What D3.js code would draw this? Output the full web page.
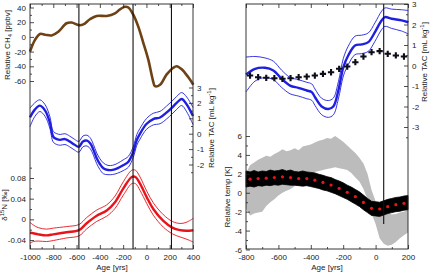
<!DOCTYPE html>
<meta charset="utf-8">
<style>
    body { margin: 0; background: #fff; }
    svg text { font-family: "Liberation Sans", Arial, sans-serif; fill: #222; }
    .axis path { display: none; }
    .axis line { stroke: #222; stroke-width: 0.8px; }
    .axis text { font-size: 8px; }
    .ttl { font-size: 8px; }
    .frame { fill: none; stroke: #222; stroke-width: 0.9px; }
</style>
<svg width="431" height="272"></svg>
<script src="https://cdn.jsdelivr.net/npm/d3@7"></script>
<script>
// ---- left panel data ----
var ch4Years = [-1000,-957,-914,-871,-814,-757,-686,-643,-580,-542,-485,-427,-341,-270,-227,-184,-155,-112,-70,-27,16,54,73,117,174,231,260,303,360,403];
var ch4Values = [-20,-4,4,3,2,7,18.6,19.6,16,17,24,28.5,28.5,32,37.5,41,40,30,14,-8,-31,-58,-67,-65,-51,-42,-40,-44,-55,-65];

var tacLYears = [-1000,-960,-915,-870,-830,-800,-770,-740,-700,-660,-620,-580,-545,-510,-480,-455,-427,-400,-370,-330,-290,-250,-200,-155,-112,-83,-55,0,59,117,174,220,260,303,346,400];
var tacLMid = [1.06,1.55,1.82,1.5,0.75,-0.2,-0.35,-0.4,-0.35,-0.5,-0.7,-0.85,-0.5,-0.45,-0.65,-1.05,-1.6,-1.97,-2.25,-2.36,-2.35,-2.25,-2.05,-1.82,-1.17,-0.41,0.0,0.63,0.95,1.05,1.38,1.7,2.0,2.25,1.9,1.15];
var tacLErr = [0.6,0.45,0.38,0.38,0.38,0.35,0.35,0.35,0.35,0.35,0.35,0.35,0.35,0.35,0.35,0.35,0.35,0.35,0.35,0.3,0.3,0.32,0.35,0.35,0.35,0.35,0.35,0.35,0.38,0.4,0.42,0.42,0.42,0.42,0.48,0.55];

var d15nYears = [-1000,-971,-930,-857,-800,-685,-579,-513,-427,-341,-270,-198,-126,-94,-55,2,59,145,222,288,340,403];
var d15nMid = [-0.026,-0.027,-0.029,-0.031,-0.029,-0.025,-0.021,-0.0075,0.007,0.017,0.033,0.06,0.082,0.082,0.069,0.043,0.020,-0.003,-0.016,-0.021,-0.022,-0.021];
var d15nErr = [0.02,0.016,0.013,0.012,0.012,0.011,0.011,0.011,0.011,0.011,0.012,0.013,0.013,0.013,0.013,0.012,0.012,0.012,0.012,0.013,0.016,0.023];

var leftMarkYears = [-580, -115, 215];

// ---- right panel data ----
var tacRYears = [-800,-744,-683,-631,-580,-528,-477,-425,-394,-374,-333,-292,-261,-230,-199,-169,-127,-86,-45,-4,37,58,99,161,202];
var tacRMid = [-0.44,-0.16,-0.11,-0.24,-0.65,-0.98,-1.09,-1.22,-1.3,-1.55,-2.0,-2.12,-2.0,-1.22,-0.08,0.49,0.98,1.03,1.14,1.63,2.2,2.36,2.28,2.2,2.11];
var tacRErr = [0.85,0.6,0.48,0.45,0.42,0.4,0.4,0.4,0.4,0.4,0.4,0.41,0.41,0.42,0.43,0.45,0.45,0.45,0.45,0.45,0.45,0.45,0.47,0.52,0.57];

var dotYears = [-775,-725,-675,-625,-575,-525,-475,-425,-375,-325,-275,-225,-175,-125,-75,-25,25,75,125,175];
var crossValues = [-0.49,-0.57,-0.6,-0.62,-0.65,-0.62,-0.57,-0.54,-0.49,-0.41,-0.33,-0.16,-0.05,0.16,0.44,0.65,0.7,0.57,0.49,0.44];
var tempDotValues = [1.44,1.5,1.54,1.61,1.68,1.61,1.5,1.5,1.33,1.09,0.81,0.46,0.04,-0.42,-1.02,-1.65,-1.72,-1.47,-1.26,-1.12];

var bandYears = d3.range(-800, 201, 25);
var blackUpper = [2.3,2.2,2.35,2.2,2.3,2.25,2.4,2.3,2.35,2.45,2.3,2.4,2.25,2.2,2.3,2.2,2.15,2.1,1.95,1.85,1.7,1.6,1.4,1.25,1.05,0.8,0.6,0.35,0.1,-0.25,-0.6,-0.9,-0.95,-1.0,-0.85,-0.7,-0.6,-0.5,-0.45,-0.35,-0.3];
var blackLower = [0.6,0.7,0.6,0.75,0.7,0.8,0.75,0.85,0.8,0.9,0.85,0.8,0.8,0.75,0.7,0.75,0.65,0.55,0.45,0.3,0.2,0.05,-0.1,-0.3,-0.5,-0.7,-0.95,-1.2,-1.45,-1.8,-2.1,-2.4,-2.45,-2.5,-2.35,-2.2,-2.1,-2.0,-1.95,-1.85,-1.8];
var greyUpper = [2.1,2.9,3.2,3.5,3.7,3.9,3.8,4.1,4.3,4.6,4.4,4.5,4.7,4.5,4.9,5.0,5.1,5.3,5.5,5.6,5.8,5.7,6.0,5.7,5.4,5.0,4.6,4.2,3.7,3.1,2.0,0.3,-0.9,-1.8,-2.1,-2.1,-2.3,-2.25,-2.1,-2.0,-1.8];
var greyLower = [-1.7,-2.4,-2.2,-2.1,-2.0,-1.4,-1.0,-0.7,-0.3,0.0,0.2,0.4,0.7,1.0,1.3,1.6,1.9,2.2,2.3,2.4,2.5,2.6,2.7,2.6,2.5,2.4,2.1,1.6,1.2,0.4,-0.7,-2.2,-3.3,-4.8,-5.4,-5.6,-5.5,-5.2,-4.8,-4.5,-4.2];

var rightMarkYear = 50;

// ---- tick labels ----
var xTicksLeft = [-1000,-800,-600,-400,-200,0,200,400];
var xTicksRight = [-800,-600,-400,-200,0,200];
var ch4Ticks = [-60,-40,-20,0,20,40];
var tacTicksLeft = [-2,-1,0,1,2,3];
var d15nTicks = [-0.04,0,0.04,0.08];
var tacTicksRight = [-3,-2,-1,0,1,2,3];
var tempTicks = [-6,-4,-2,0,2,4,6];

var svg = d3.select("svg");

var xL = d3.scaleLinear().domain([-1000, 400]).range([30, 193]);
var yCH4 = d3.scaleLinear().domain([-60, 40]).range([81, 7.5]);
var yTacL = d3.scaleLinear().domain([-2, 3]).range([164.5, 87.5]);
var yN = d3.scaleLinear().domain([-0.04, 0.08]).range([240, 178]);

var xR = d3.scaleLinear().domain([-800, 200]).range([246, 408]);
var yTacR = d3.scaleLinear().domain([-3, 3]).range([127, 4]);
var yT = d3.scaleLinear().domain([-6, 6]).range([249.5, 136]);

var fmt = function(d) { return String(d); };

function axis(gen, scale, pos, major, minor, labels, pad) {
    var g = svg.append("g").attr("class", "axis").attr("transform", pos);
    g.call(gen(scale).tickValues(major).tickSize(-4).tickPadding(labels ? (pad || 4) : 0)
        .tickFormat(labels ? fmt : ""));
    svg.append("g").attr("class", "axis").attr("transform", pos)
        .call(gen(scale).tickValues(minor).tickSize(-2).tickFormat(""));
    return g;
}

function rowsOf(years, mid, err) {
    return years.map(function(y, i) { return {x: y, m: mid[i], e: err ? err[i] : 0}; });
}

// ---- left panel ----
var ch4 = rowsOf(ch4Years, ch4Values);
var tacL = rowsOf(tacLYears, tacLMid, tacLErr);
var d15n = rowsOf(d15nYears, d15nMid, d15nErr);

function band(g, data, x, y, col, w) {
    var curve = d3.curveCatmullRom;
    [-1, 1].forEach(function(s) {
        g.append("path").datum(data)
            .attr("fill", "none").attr("stroke", col).attr("stroke-width", 0.9)
            .attr("d", d3.line().curve(curve).x(function(d) { return x(d.x); })
                .y(function(d) { return y(d.m + s * d.e); }));
    });
    g.append("path").datum(data)
        .attr("fill", "none").attr("stroke", col).attr("stroke-width", w)
        .attr("d", d3.line().curve(curve).x(function(d) { return x(d.x); })
            .y(function(d) { return y(d.m); }));
}

var gl = svg.append("g");
gl.append("path").datum(ch4)
    .attr("fill", "none").attr("stroke", "#6e4214").attr("stroke-width", 2.6)
    .attr("d", d3.line().curve(d3.curveCatmullRom).x(function(d) { return xL(d.x); })
        .y(function(d) { return yCH4(d.m); }));
band(gl, tacL, xL, yTacL, "#1f1fe0", 2.4);
band(gl, d15n, xL, yN, "#e8141c", 2.4);

gl.selectAll(".mark").data(leftMarkYears).enter().append("line")
    .attr("x1", function(d) { return xL(d); }).attr("x2", function(d) { return xL(d); })
    .attr("y1", 4).attr("y2", 249).attr("stroke", "#111").attr("stroke-width", 1.1);

svg.append("rect").attr("class", "frame").attr("x", 30).attr("y", 4).attr("width", 163).attr("height", 245);

axis(d3.axisBottom, xL, "translate(0,249)", xTicksLeft, d3.range(-900, 400, 200), true, 5.5);
axis(d3.axisTop, xL, "translate(0,4)", xTicksLeft, d3.range(-900, 400, 200), false);
axis(d3.axisLeft, yCH4, "translate(30,0)", ch4Ticks, d3.range(-50, 40, 20), true);
axis(d3.axisLeft, yN, "translate(30,0)", d15nTicks, [-0.02, 0.02, 0.06, 0.1], true);
axis(d3.axisRight, yTacL, "translate(193,0)", tacTicksLeft, [-2.5, -1.5, -0.5, 0.5, 1.5, 2.5], true);

// ---- right panel ----
var tacR = rowsOf(tacRYears, tacRMid, tacRErr);
var gr = svg.append("g");

gr.append("path").datum(bandYears)
    .attr("fill", "#bcbcbc")
    .attr("d", d3.area().x(function(d) { return xR(d); })
        .y0(function(d, i) { return yT(greyLower[i]); })
        .y1(function(d, i) { return yT(greyUpper[i]); }));
gr.append("path").datum(bandYears)
    .attr("fill", "#000").attr("stroke", "#000").attr("stroke-width", 0.8)
    .attr("d", d3.area().x(function(d) { return xR(d); })
        .y0(function(d, i) { return yT(blackLower[i]); })
        .y1(function(d, i) { return yT(blackUpper[i]); }));
gr.selectAll(".dot").data(dotYears).enter().append("circle")
    .attr("cx", function(d) { return xR(d); })
    .attr("cy", function(d, i) { return yT(tempDotValues[i]); })
    .attr("r", 1.6).attr("fill", "#e8141c");

band(gr, tacR, xR, yTacR, "#1f1fe0", 2.4);
gr.selectAll(".cross").data(dotYears).enter().append("path")
    .attr("transform", function(d, i) { return "translate(" + xR(d) + "," + yTacR(crossValues[i]) + ")"; })
    .attr("d", d3.symbol().type(d3.symbolCross).size(22))
    .attr("fill", "#0d0d1a");

gr.append("line").attr("x1", xR(rightMarkYear)).attr("x2", xR(rightMarkYear))
    .attr("y1", 4).attr("y2", 224).attr("stroke", "#111").attr("stroke-width", 1.1);

svg.append("rect").attr("class", "frame").attr("x", 246).attr("y", 4).attr("width", 162).attr("height", 245);

axis(d3.axisBottom, xR, "translate(0,249)", xTicksRight, d3.range(-700, 200, 200), true, 5.5);
axis(d3.axisTop, xR, "translate(0,4)", xTicksRight, d3.range(-700, 200, 200), false);
axis(d3.axisLeft, yT, "translate(246,0)", tempTicks, d3.range(-5, 6, 2), true);
axis(d3.axisRight, yTacR, "translate(408,0)", tacTicksRight, [-3.5, -2.5, -1.5, -0.5, 0.5, 1.5, 2.5], true);

// ---- titles ----
function vtitle(x, y, parts) {
    var t = svg.append("text").attr("class", "ttl")
        .attr("transform", "translate(" + x + "," + y + ") rotate(-90)")
        .attr("text-anchor", "middle");
    parts.forEach(function(p) {
        var s = t.append("tspan").text(p[0]);
        if (p[1] === "sub") s.attr("font-size", "6px").attr("dy", 2);
        if (p[1] === "sup") s.attr("font-size", "6px").attr("dy", -3);
        if (p[1] === "back") s.attr("dy", p[2]);
    });
}
vtitle(10, 45, [["Relative CH"], ["4", "sub"], [" [ppbv]", "back", -2]]);
vtitle(7, 205, [["\u03b4"], ["15", "sup"], ["N [\u2030]", "back", 3]]);
vtitle(214, 128, [["Relative TAC [mL kg"], ["-1", "sup"], ["]", "back", 3]]);
vtitle(427, 62, [["Relative TAC [mL kg"], ["-1", "sup"], ["]", "back", 3]]);
vtitle(230, 197, [["Relative temp [K]"]]);

svg.append("text").attr("class", "ttl").attr("x", 112).attr("y", 270).attr("text-anchor", "middle").text("Age [yrs]");
svg.append("text").attr("class", "ttl").attr("x", 327).attr("y", 270).attr("text-anchor", "middle").text("Age [yrs]");
</script>
